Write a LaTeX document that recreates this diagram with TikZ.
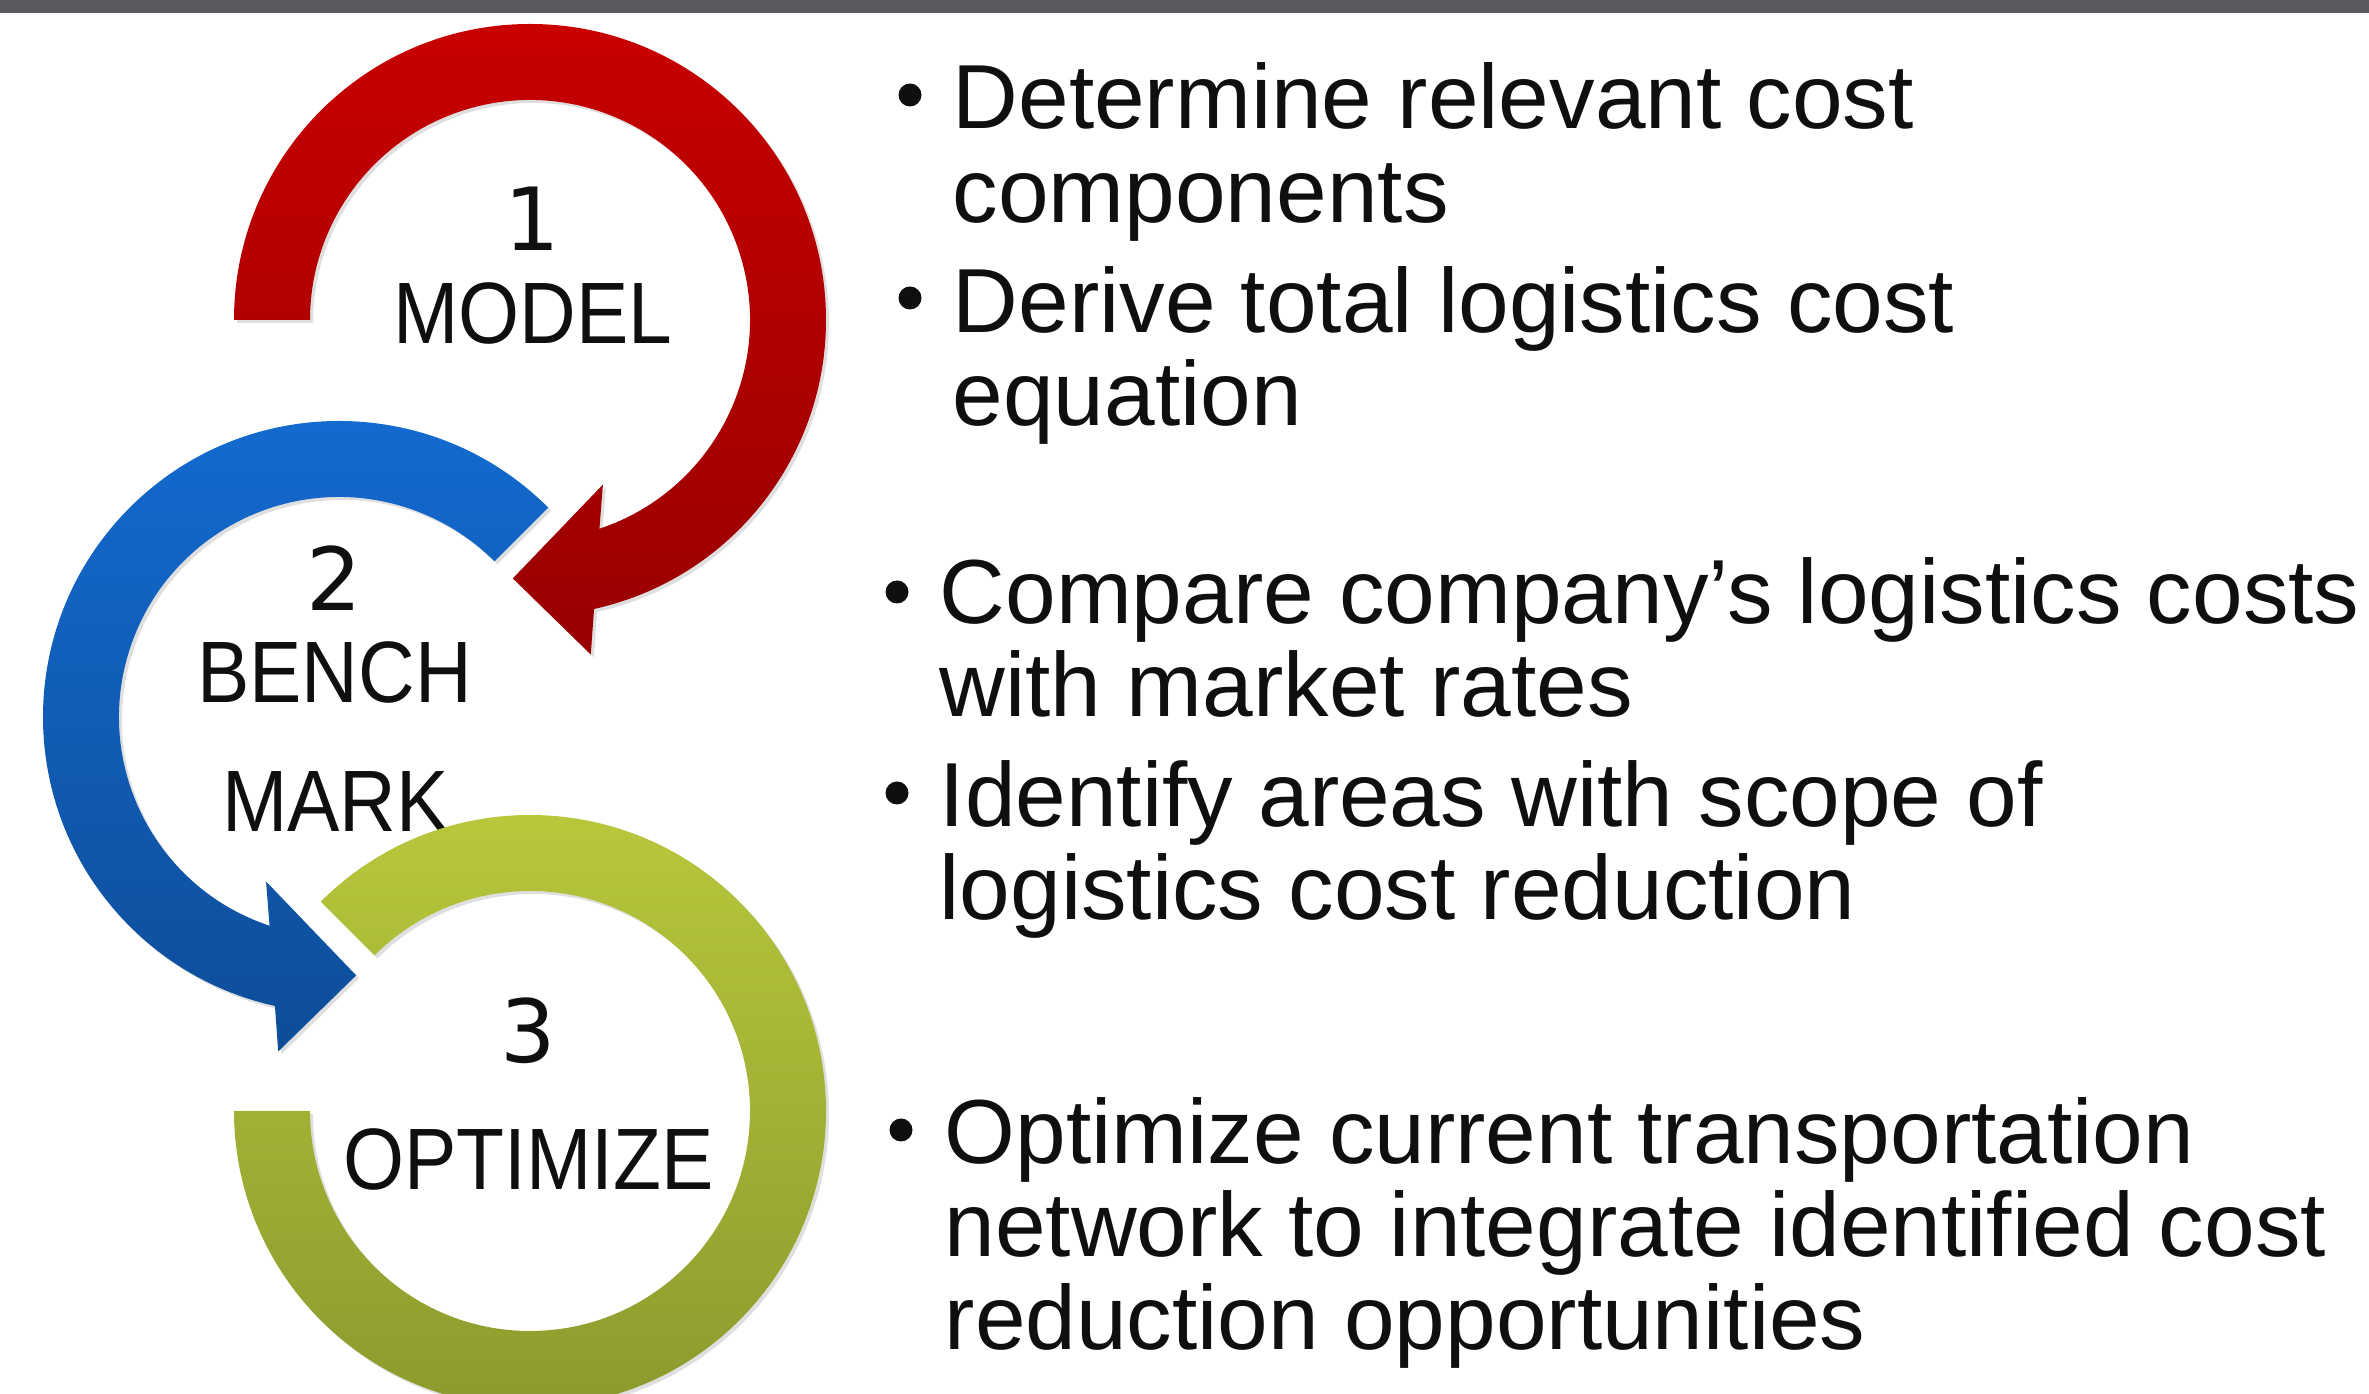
\documentclass[tikz,border=0pt]{standalone}
\usepackage{fontspec}
\setmainfont{Liberation Sans}
\newfontfamily\stepfont{Liberation Sans}[FakeStretch=0.9]
\newfontfamily\numfont{DejaVu Sans}
\usetikzlibrary{calc,shadows}
\definecolor{ink}{HTML}{0F0F0F}
\definecolor{bar}{HTML}{5A5B5F}
\definecolor{redtop}{HTML}{C80000}
\definecolor{redbot}{HTML}{980000}
\definecolor{bluetop}{HTML}{146BD1}
\definecolor{bluebot}{HTML}{0D4D98}
\definecolor{greentop}{HTML}{BAC93C}
\definecolor{greenbot}{HTML}{8A982D}
\tikzset{
  numlbl/.style={font=\numfont\fontsize{24.8}{26}\selectfont,text=ink,anchor=base,inner sep=0pt},
  steplbl/.style={font=\stepfont\fontsize{24.8}{26}\selectfont,text=ink,anchor=base,inner sep=0pt},
  pt/.style={font=\fontsize{25.9}{26.6}\selectfont,text=ink,anchor=base west,align=left,inner sep=0pt},
  bul/.style={circle,fill=ink,inner sep=0pt,minimum size=2.3mm},
  ringshadow/.style={drop shadow={opacity=0.25,shadow xshift=0.3mm,shadow yshift=-0.3mm}},
}

\begin{document}
\begin{tikzpicture}
\useasboundingbox (0,0) rectangle (23.69,13.94);
\fill[bar] (0,13.805) rectangle (23.69,13.94);
\coordinate (c1) at (5.30,10.74);
\coordinate (c2) at (3.39,6.77);
\coordinate (c3) at (5.30,2.83);

% 1: model, red ring turning clockwise into the head
\shade[top color=redtop,bottom color=redbot,ringshadow]
  ($(c1)+(180:2.96)$) arc[start angle=180,end angle=-77.5,radius=2.96]
  -- ($(c1)+(-79.7:3.40)$) -- ($(c1)+(-93.8:2.59)$) -- ($(c1)+(-66.1:1.80)$)
  -- ($(c1)+(-71.6:2.20)$) arc[start angle=-71.6,end angle=180,radius=2.20] -- cycle;

% 2: benchmark, blue ring turning the other way
\shade[top color=bluetop,bottom color=bluebot,ringshadow]
  ($(c2)+(45:2.96)$) arc[start angle=45,end angle=257.5,radius=2.96]
  -- ($(c2)+(259.7:3.40)$) -- ($(c2)+(273.8:2.59)$) -- ($(c2)+(246.1:1.80)$)
  -- ($(c2)+(251.6:2.20)$) arc[start angle=251.6,end angle=45,radius=2.20] -- cycle;

\node[numlbl] (n1) at (5.32,11.43) {1};
\node[steplbl] (s1) at (5.33,10.50) {MODEL};
\node[numlbl] (n2) at (3.34,7.83) {2};
\node[steplbl] (s2a) at (3.345,6.91) {BENCH};
\node[steplbl] (s2b) at (3.355,5.62) {MARK};

% 3: optimize, open green ring
\shade[top color=greentop,bottom color=greenbot,ringshadow]
  ($(c3)+(135:2.96)$) arc[start angle=135,end angle=-180,radius=2.96]
  -- ($(c3)+(180:2.20)$) arc[start angle=-180,end angle=135,radius=2.20] -- cycle;

\node[numlbl] (n3) at (5.28,3.31) {3};
\node[steplbl] (s3) at (5.285,2.04) {OPTIMIZE};

% bullet text, anchored on the baseline of its last line
\foreach \name/\bx/\by/\tx/\ty/\txt in {
  cost/9.10/12.99/9.52/11.715/{Determine relevant cost\\components},
  eqn/9.10/10.96/9.52/9.685/{Derive total logistics cost\\equation},
  cmp/8.97/8.02/9.39/6.77/{Compare company’s logistics costs\\with market rates},
  gap/8.97/6.01/9.39/4.74/{Identify areas with scope of\\logistics cost reduction},
  opt/9.01/2.64/9.44/0.44/{Optimize current transportation\\network to integrate identified cost\\reduction opportunities}} {
  \node[bul] (\name b) at (\bx,\by) {};
  \node[pt] (\name) at (\tx,\ty) {\txt};
}
\end{tikzpicture}
\end{document}
